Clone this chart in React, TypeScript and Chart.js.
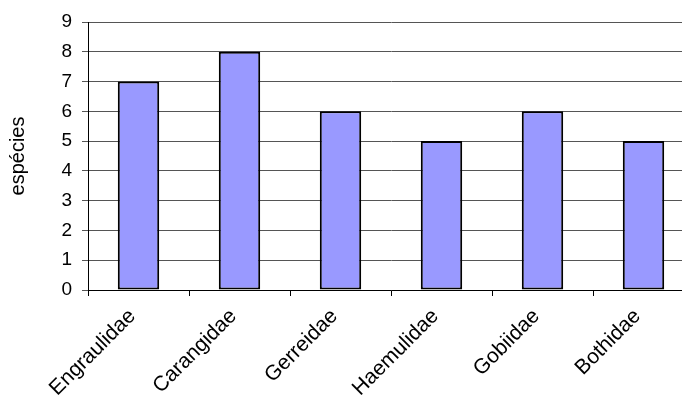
import React, { useEffect, useRef } from "react";
import { Chart, registerables } from "chart.js";

Chart.register(...registerables);

const categories = ["Engraulidae", "Carangidae", "Gerreidae", "Haemulidae", "Gobiidae", "Bothidae"];
const especies = [7, 8, 6, 5, 6, 5];
const yTitle = "espécies";

export default function App() {
  const ref = useRef<HTMLCanvasElement | null>(null);
  useEffect(() => {
    if (!ref.current) return;
    const chart = new Chart(ref.current, {
      type: "bar",
      data: {
        labels: categories,
        datasets: [
          {
            data: especies,
            backgroundColor: "#9999FF",
            borderColor: "#000000",
            borderWidth: 2,
            borderSkipped: false,
            barPercentage: 0.41,
            categoryPercentage: 1,
          },
        ],
      },
      options: {
        responsive: false,
        animation: false,
        layout: { padding: { top: 14, right: 4, bottom: 0, left: 0 } },
        plugins: { legend: { display: false }, tooltip: { enabled: false } },
        scales: {
          x: {
            grid: { display: true, drawOnChartArea: false, drawTicks: true, tickLength: 6, color: "#000000", offset: true },
            border: { display: true, color: "#000000", width: 1 },
            ticks: {
              autoSkip: false,
              minRotation: 45,
              maxRotation: 45,
              padding: 8,
              labelOffset: -6,
              color: "#000000",
              font: { family: "'Liberation Sans', Arial, sans-serif", size: 21 },
            },
            afterFit: (s: any) => {
              s.height = 108;
              s.paddingLeft = 0;
              s.paddingRight = 0;
            },
          },
          y: {
            min: 0,
            max: 9,
            grid: { color: "#555555", tickLength: 6 },
            border: { display: true, color: "#000000", width: 1 },
            ticks: {
              stepSize: 1,
              padding: 10,
              color: "#000000",
              font: { family: "'Liberation Sans', Arial, sans-serif", size: 19 },
            },
            title: {
              display: true,
              text: yTitle,
              color: "#000000",
              padding: { top: 0, bottom: 0 },
              font: { family: "'Liberation Sans', Arial, sans-serif", size: 20, lineHeight: 1 },
            },
            afterFit: (s: any) => {
              s.width = 80;
              s.paddingTop = 0;
              s.paddingBottom = 0;
            },
          },
        },
      },
    });
    return () => chart.destroy();
  }, []);
  return (
    <div style={{ position: "fixed", left: 8, top: 8, width: 674, height: 390, overflow: "hidden", background: "#fff" }}>
      <canvas ref={ref} width={690} height={390} style={{ display: "block" }} />
    </div>
  );
}
